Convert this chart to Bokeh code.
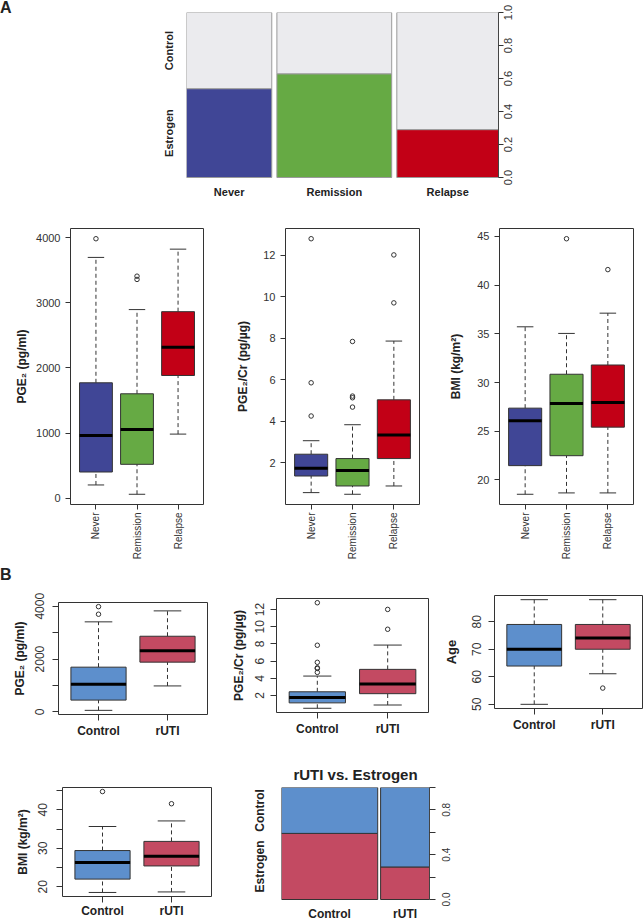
import math
from bokeh.plotting import figure
from bokeh.layouts import column, row
from bokeh.models import ColumnDataSource, FixedTicker, Range1d, LinearAxis, Div
from bokeh.core.properties import value
from bokeh.embed import file_html
from bokeh.resources import INLINE

FONT = "Liberation Sans"
INK = "#222222"
TICK_INK = "#333333"
EDGE = "#333333"
ROT = math.pi / 2

# ---------------- data ----------------
groups_a = ["Never", "Remission", "Relapse"]
colors_a = ["#404696", "#66aa44", "#c20016"]
n_a = [26, 35, 31]
estrogen_a = [14, 22, 9]
control_gray = "#ebebee"

groups_b = ["Control", "rUTI"]
colors_b = ["#5d8fcc", "#c34a62"]
n_b = [61, 31]
estrogen_b = [36, 9]
rows_mosaic = ["Estrogen", "Control"]

# PGE2 (pg/ml), panel A
pge_a_q1 = [403, 521, 1885]
pge_a_med = [965, 1057, 2318]
pge_a_q3 = [1773, 1604, 2865]
pge_a_lo = [204, 61, 985]
pge_a_hi = [3698, 2897, 3825]
pge_a_out = [[3985], [3410, 3360], []]
pge_a_ticks = [0, 1000, 2000, 3000, 4000]

# PGE2/Cr (pg/ug), panel A
cr_a_q1 = [1.37, 0.89, 2.21]
cr_a_med = [1.74, 1.63, 3.35]
cr_a_q3 = [2.42, 2.21, 5.04]
cr_a_lo = [0.57, 0.49, 0.89]
cr_a_hi = [3.07, 3.84, 7.87]
cr_a_out = [[4.26, 5.86, 12.8], [4.69, 5.14, 5.22, 7.85], [9.71, 12.02]]
cr_a_ticks = [2, 4, 6, 8, 10, 12]

# BMI, panel A
bmi_a_q1 = [21.47, 22.49, 25.42]
bmi_a_med = [26.07, 27.84, 27.95]
bmi_a_q3 = [27.37, 30.85, 31.8]
bmi_a_lo = [18.53, 18.67, 18.67]
bmi_a_hi = [35.72, 35.04, 37.12]
bmi_a_out = [[], [44.76], [41.59]]
bmi_a_ticks = [20, 25, 30, 35, 40, 45]

# PGE2, panel B
pge_b_q1 = [449, 1885]
pge_b_med = [1047, 2318]
pge_b_q3 = [1695, 2865]
pge_b_lo = [61, 985]
pge_b_hi = [3410, 3825]
pge_b_out = [[3985, 3698], []]
pge_b_ticks = [0, 1000, 2000, 3000, 4000]
pge_b_labels = ["0", "", "2000", "", "4000"]

# PGE2/Cr, panel B
cr_b_q1 = [1.14, 2.21]
cr_b_med = [1.76, 3.35]
cr_b_q3 = [2.43, 5.04]
cr_b_lo = [0.51, 0.89]
cr_b_hi = [4.26, 7.87]
cr_b_out = [[4.69, 5.14, 5.22, 5.86, 7.85, 12.8], [9.71, 12.02]]
cr_b_ticks = [2, 4, 6, 8, 10, 12]

# Age, panel B
age_b_q1 = [63.9, 70.0]
age_b_med = [70.0, 74.1]
age_b_q3 = [79.0, 79.0]
age_b_lo = [50, 61.1]
age_b_hi = [88, 88]
age_b_out = [[], [55.9]]
age_b_ticks = [50, 60, 70, 80]

# BMI, panel B
bmi_b_q1 = [22.0, 25.42]
bmi_b_med = [26.33, 27.95]
bmi_b_q3 = [29.42, 31.8]
bmi_b_lo = [18.53, 18.67]
bmi_b_hi = [35.67, 37.12]
bmi_b_out = [[44.76], [41.59]]
bmi_b_ticks = [20, 25, 30, 35, 40, 45]
bmi_b_labels = ["20", "", "30", "", "40", ""]

mosaic_ticks = [0.0, 0.2, 0.4, 0.6, 0.8, 1.0]
mosaic_a_labels = ["0.0", "0.2", "0.4", "0.6", "0.8", "1.0"]
mosaic_b_labels = ["0.0", "", "0.4", "", "0.8", ""]


# ---------------- helpers ----------------
def base_fig(w, h, bl, br, bt, bb, xr, yr, outline=EDGE, title=None):
    kw = {}
    if title is not None:
        kw["title"] = title
    p = figure(width=w, height=h, x_range=Range1d(*xr), y_range=Range1d(*yr),
               output_backend="svg", toolbar_location=None,
               x_axis_location=None, y_axis_location=None,
               min_border_left=bl, min_border_right=br,
               min_border_top=bt, min_border_bottom=bb, **kw)
    p.grid.visible = False
    p.outline_line_color = outline
    p.outline_line_width = 1
    p.background_fill_color = "white"
    p.border_fill_color = "white"
    return p


def add_axis(p, side, ticks, labels=None, tick_out=5, standoff=5, size="11px",
             bold=False, orient="horizontal", line=False, show_ticks=True,
             axis_label=None, ax_label_size="12px", ax_label_standoff=5, bounds=None):
    ax = LinearAxis()
    ax.ticker = FixedTicker(ticks=ticks, minor_ticks=[])
    if labels is not None:
        ax.major_label_overrides = {t: l for t, l in zip(ticks, labels)}
    ax.major_tick_out = tick_out if show_ticks else 0
    ax.major_tick_in = 0
    ax.major_tick_line_color = EDGE if show_ticks else None
    ax.minor_tick_line_color = None
    ax.axis_line_color = "#444444" if line else None
    if bounds is not None:
        ax.bounds = bounds
    ax.major_label_standoff = standoff
    ax.major_label_text_font = FONT
    ax.major_label_text_font_size = size
    ax.major_label_text_color = INK if bold else TICK_INK
    ax.major_label_text_font_style = "bold" if bold else "normal"
    ax.major_label_orientation = orient
    if axis_label is not None:
        ax.axis_label = axis_label
        ax.axis_label_text_font = FONT
        ax.axis_label_text_font_size = ax_label_size
        ax.axis_label_text_font_style = "bold"
        ax.axis_label_text_color = INK
        ax.axis_label_standoff = ax_label_standoff
    p.add_layout(ax, side)
    return ax


def right_prob_axis(p, ticks, labels, tick_out, standoff, size_px, bar_px):
    # tick marks + axis line
    add_axis(p, "right", ticks, [""] * len(ticks), tick_out=tick_out, standoff=0,
             size="1px", line=True, bounds=(0, 1))
    # labels reading upward, centred on their ticks
    half = 0.5 * 1.39 * size_px / bar_px
    lab_ticks = [round(t - half, 5) for t in ticks]
    add_axis(p, "right", lab_ticks, labels, show_ticks=False, standoff=standoff,
             size=f"{size_px}px", orient=ROT)


def yrange(q_lo, q_hi, outs):
    lo = min(q_lo + [v for o in outs for v in o])
    hi = max(q_hi + [v for o in outs for v in o])
    ext = 0.04 * (hi - lo)
    return (lo - ext, hi + ext)


def draw_boxes(p, q1, med, q3, lo, hi, outs, colors, box_w=0.8):
    xs = list(range(1, len(q1) + 1))
    src = ColumnDataSource(dict(
        x=xs, q1=q1, med=med, q3=q3, lo=lo, hi=hi, color=colors,
        left=[x - box_w / 2 for x in xs], right=[x + box_w / 2 for x in xs],
        cl=[x - box_w / 4 for x in xs], cr=[x + box_w / 4 for x in xs]))
    p.segment("x", "q3", "x", "hi", source=src, line_color=EDGE, line_width=1, line_dash="4 3")
    p.segment("x", "lo", "x", "q1", source=src, line_color=EDGE, line_width=1, line_dash="4 3")
    p.segment("cl", "hi", "cr", "hi", source=src, line_color=EDGE, line_width=1)
    p.segment("cl", "lo", "cr", "lo", source=src, line_color=EDGE, line_width=1)
    p.quad(left="left", right="right", bottom="q1", top="q3", source=src,
           fill_color="color", line_color=EDGE, line_width=1)
    p.segment("left", "med", "right", "med", source=src, line_color="black", line_width=3)
    ox = [xs[i] for i, o in enumerate(outs) for _ in o]
    oy = [v for o in outs for v in o]
    if ox:
        p.scatter(ox, oy, size=4.5, fill_color=None, line_color=EDGE, line_width=1)


def box_panel(w, h, bl, br, bt, bb, groups, colors, q1, med, q3, lo, hi, outs):
    n = len(groups)
    xr = (0.5 - 0.04 * n, n + 0.5 + 0.04 * n)
    yr = yrange(lo, hi, outs)
    p = base_fig(w, h, bl, br, bt, bb, xr, yr)
    draw_boxes(p, q1, med, q3, lo, hi, outs, colors)
    return p


def mosaic_panel(w, h, bl, br, bt, bb, counts, estro, bottom_colors, top_colors,
                 edge, gap_frac, bar_px, label_px, groups, label_size, title=None):
    total = sum(counts)
    gap = gap_frac * total
    lefts = []
    x = 0.0
    for k in counts:
        lefts.append(x)
        x += k + gap
    width_total = x - gap
    rights = [l + k for l, k in zip(lefts, counts)]
    frac = [e / k for e, k in zip(estro, counts)]
    y_bottom = -(h - bt - bb - bar_px) / bar_px
    p = base_fig(w, h, bl, br, bt, bb, (0, width_total), (y_bottom, 1), outline=None,
                 title=title)
    src = ColumnDataSource(dict(left=lefts, right=rights, frac=frac,
                                zero=[0] * len(counts), one=[1] * len(counts),
                                cb=bottom_colors, ct=top_colors))
    p.quad(left="left", right="right", bottom="zero", top="frac", source=src,
           fill_color="cb", line_color=edge, line_width=1)
    p.quad(left="left", right="right", bottom="frac", top="one", source=src,
           fill_color="ct", line_color=edge, line_width=1)
    centers = [(l + r) / 2 for l, r in zip(lefts, rights)]
    lab_src = ColumnDataSource(dict(x=centers, y=[-label_px / bar_px] * len(counts), t=groups))
    p.text(x="x", y="y", text="t", source=lab_src, text_font=value(FONT),
           text_font_size=value(label_size), text_font_style="bold", text_color=INK,
           text_align="center", text_baseline="middle")
    ycent = [round(frac[0] / 2, 4), round((1 + frac[0]) / 2, 4)]
    return p, ycent


def panel_letter(text, w, h, pad_top):
    return Div(text=text, width=w, height=h, margin=0,
               styles={"font-family": FONT, "font-size": "16px", "font-weight": "bold",
                       "color": INK, "line-height": "1", "padding-top": f"{pad_top}px"})


# ---------------- Panel A: mosaic ----------------
pA, yA = mosaic_panel(624, 212, 166, 146, 12, 10, n_a, estrogen_a, colors_a,
                      [control_gray] * 3, "#9a9a9a", 0.017, 165, 14, groups_a, "11px")
right_prob_axis(pA, mosaic_ticks, mosaic_a_labels, 5, 5, 11, 165)
add_axis(pA, "left", yA, rows_mosaic, show_ticks=False, standoff=11, size="11px",
         bold=True, orient="vertical")
letterA = panel_letter("A", 20, 212, 0)

# ---------------- Panel A: boxplots ----------------
pA1 = box_panel(225, 350, 70, 22, 16, 57, groups_a, colors_a,
                pge_a_q1, pge_a_med, pge_a_q3, pge_a_lo, pge_a_hi, pge_a_out)
add_axis(pA1, "left", pge_a_ticks, [str(t) for t in pge_a_ticks], axis_label="PGE₂ (pg/ml)",
         ax_label_size="12px", ax_label_standoff=4)
add_axis(pA1, "below", [1, 2, 3], groups_a, standoff=3, size="10px", orient=ROT)

pA2 = box_panel(215, 350, 60, 21, 16, 57, groups_a, colors_a,
                cr_a_q1, cr_a_med, cr_a_q3, cr_a_lo, cr_a_hi, cr_a_out)
add_axis(pA2, "left", cr_a_ticks, [str(t) for t in cr_a_ticks], axis_label="PGE₂/Cr (pg/µg)",
         ax_label_size="12px", ax_label_standoff=10)
add_axis(pA2, "below", [1, 2, 3], groups_a, standoff=3, size="10px", orient=ROT)

pA3 = box_panel(204, 350, 59, 11, 16, 57, groups_a, colors_a,
                bmi_a_q1, bmi_a_med, bmi_a_q3, bmi_a_lo, bmi_a_hi, bmi_a_out)
add_axis(pA3, "left", bmi_a_ticks, [str(t) for t in bmi_a_ticks], axis_label="BMI (kg/m²)",
         ax_label_size="12px", ax_label_standoff=11)
add_axis(pA3, "below", [1, 2, 3], groups_a, standoff=3, size="10px", orient=ROT)

# ---------------- Panel B: boxplots ----------------
pB1 = box_panel(225, 170, 58, 18, 20, 38, groups_b, colors_b,
                pge_b_q1, pge_b_med, pge_b_q3, pge_b_lo, pge_b_hi, pge_b_out)
add_axis(pB1, "left", pge_b_ticks, pge_b_labels, tick_out=6, standoff=8, size="12px",
         orient="vertical", axis_label="PGE₂ (pg/ml)", ax_label_size="12px",
         ax_label_standoff=6)
add_axis(pB1, "below", [1, 2], groups_b, tick_out=6, standoff=3, size="12px", bold=True)
letterB = panel_letter("B", 225, 20, 5)

pB2 = box_panel(215, 190, 51, 12, 36, 40, groups_b, colors_b,
                cr_b_q1, cr_b_med, cr_b_q3, cr_b_lo, cr_b_hi, cr_b_out)
add_axis(pB2, "left", cr_b_ticks, [str(t) for t in cr_b_ticks], tick_out=6, standoff=6,
         size="12px", orient="vertical", axis_label="PGE₂/Cr (pg/µg)", ax_label_size="12px",
         ax_label_standoff=7)
add_axis(pB2, "below", [1, 2], groups_b, tick_out=6, standoff=3, size="12px", bold=True)

pB3 = box_panel(204, 190, 54, 2, 33, 44, groups_b, colors_b,
                age_b_q1, age_b_med, age_b_q3, age_b_lo, age_b_hi, age_b_out)
add_axis(pB3, "left", age_b_ticks, [str(t) for t in age_b_ticks], tick_out=6, standoff=7,
         size="12px", orient="vertical", axis_label="Age", ax_label_size="13px",
         ax_label_standoff=11)
add_axis(pB3, "below", [1, 2], groups_b, tick_out=6, standoff=3, size="12px", bold=True)

pB4 = box_panel(225, 168, 62, 14, 35, 21, groups_b, colors_b,
                bmi_b_q1, bmi_b_med, bmi_b_q3, bmi_b_lo, bmi_b_hi, bmi_b_out)
add_axis(pB4, "left", bmi_b_ticks, bmi_b_labels, tick_out=6, standoff=9, size="12px",
         orient="vertical", axis_label="BMI (kg/m²)", ax_label_size="12px",
         ax_label_standoff=6)
add_axis(pB4, "below", [1, 2], groups_b, tick_out=6, standoff=1, size="12px", bold=True)

# ---------------- Panel B: mosaic ----------------
pB5, yB = mosaic_panel(419, 168, 56, 215, 35, 1, n_b, estrogen_b,
                       [colors_b[1]] * 2, [colors_b[0]] * 2, EDGE, 0.02, 112, 14,
                       groups_b, "12px", title="rUTI vs. Estrogen")
pB5.title.align = "center"
pB5.title.text_font = FONT
pB5.title.text_font_size = "15px"
pB5.title.text_font_style = "bold"
pB5.title.text_color = INK
right_prob_axis(pB5, mosaic_ticks, mosaic_b_labels, 6, 11, 10, 112)
add_axis(pB5, "left", yB, rows_mosaic, show_ticks=False, standoff=14,
         size="12px", bold=True, orient="vertical")

layout = column(
    row(letterA, pA),
    row(pA1, pA2, pA3),
    row(column(letterB, pB1), column(pB2), column(pB3)),
    row(column(pB4), column(pB5)),
)

open("out.html", "w").write(file_html(layout, INLINE))
